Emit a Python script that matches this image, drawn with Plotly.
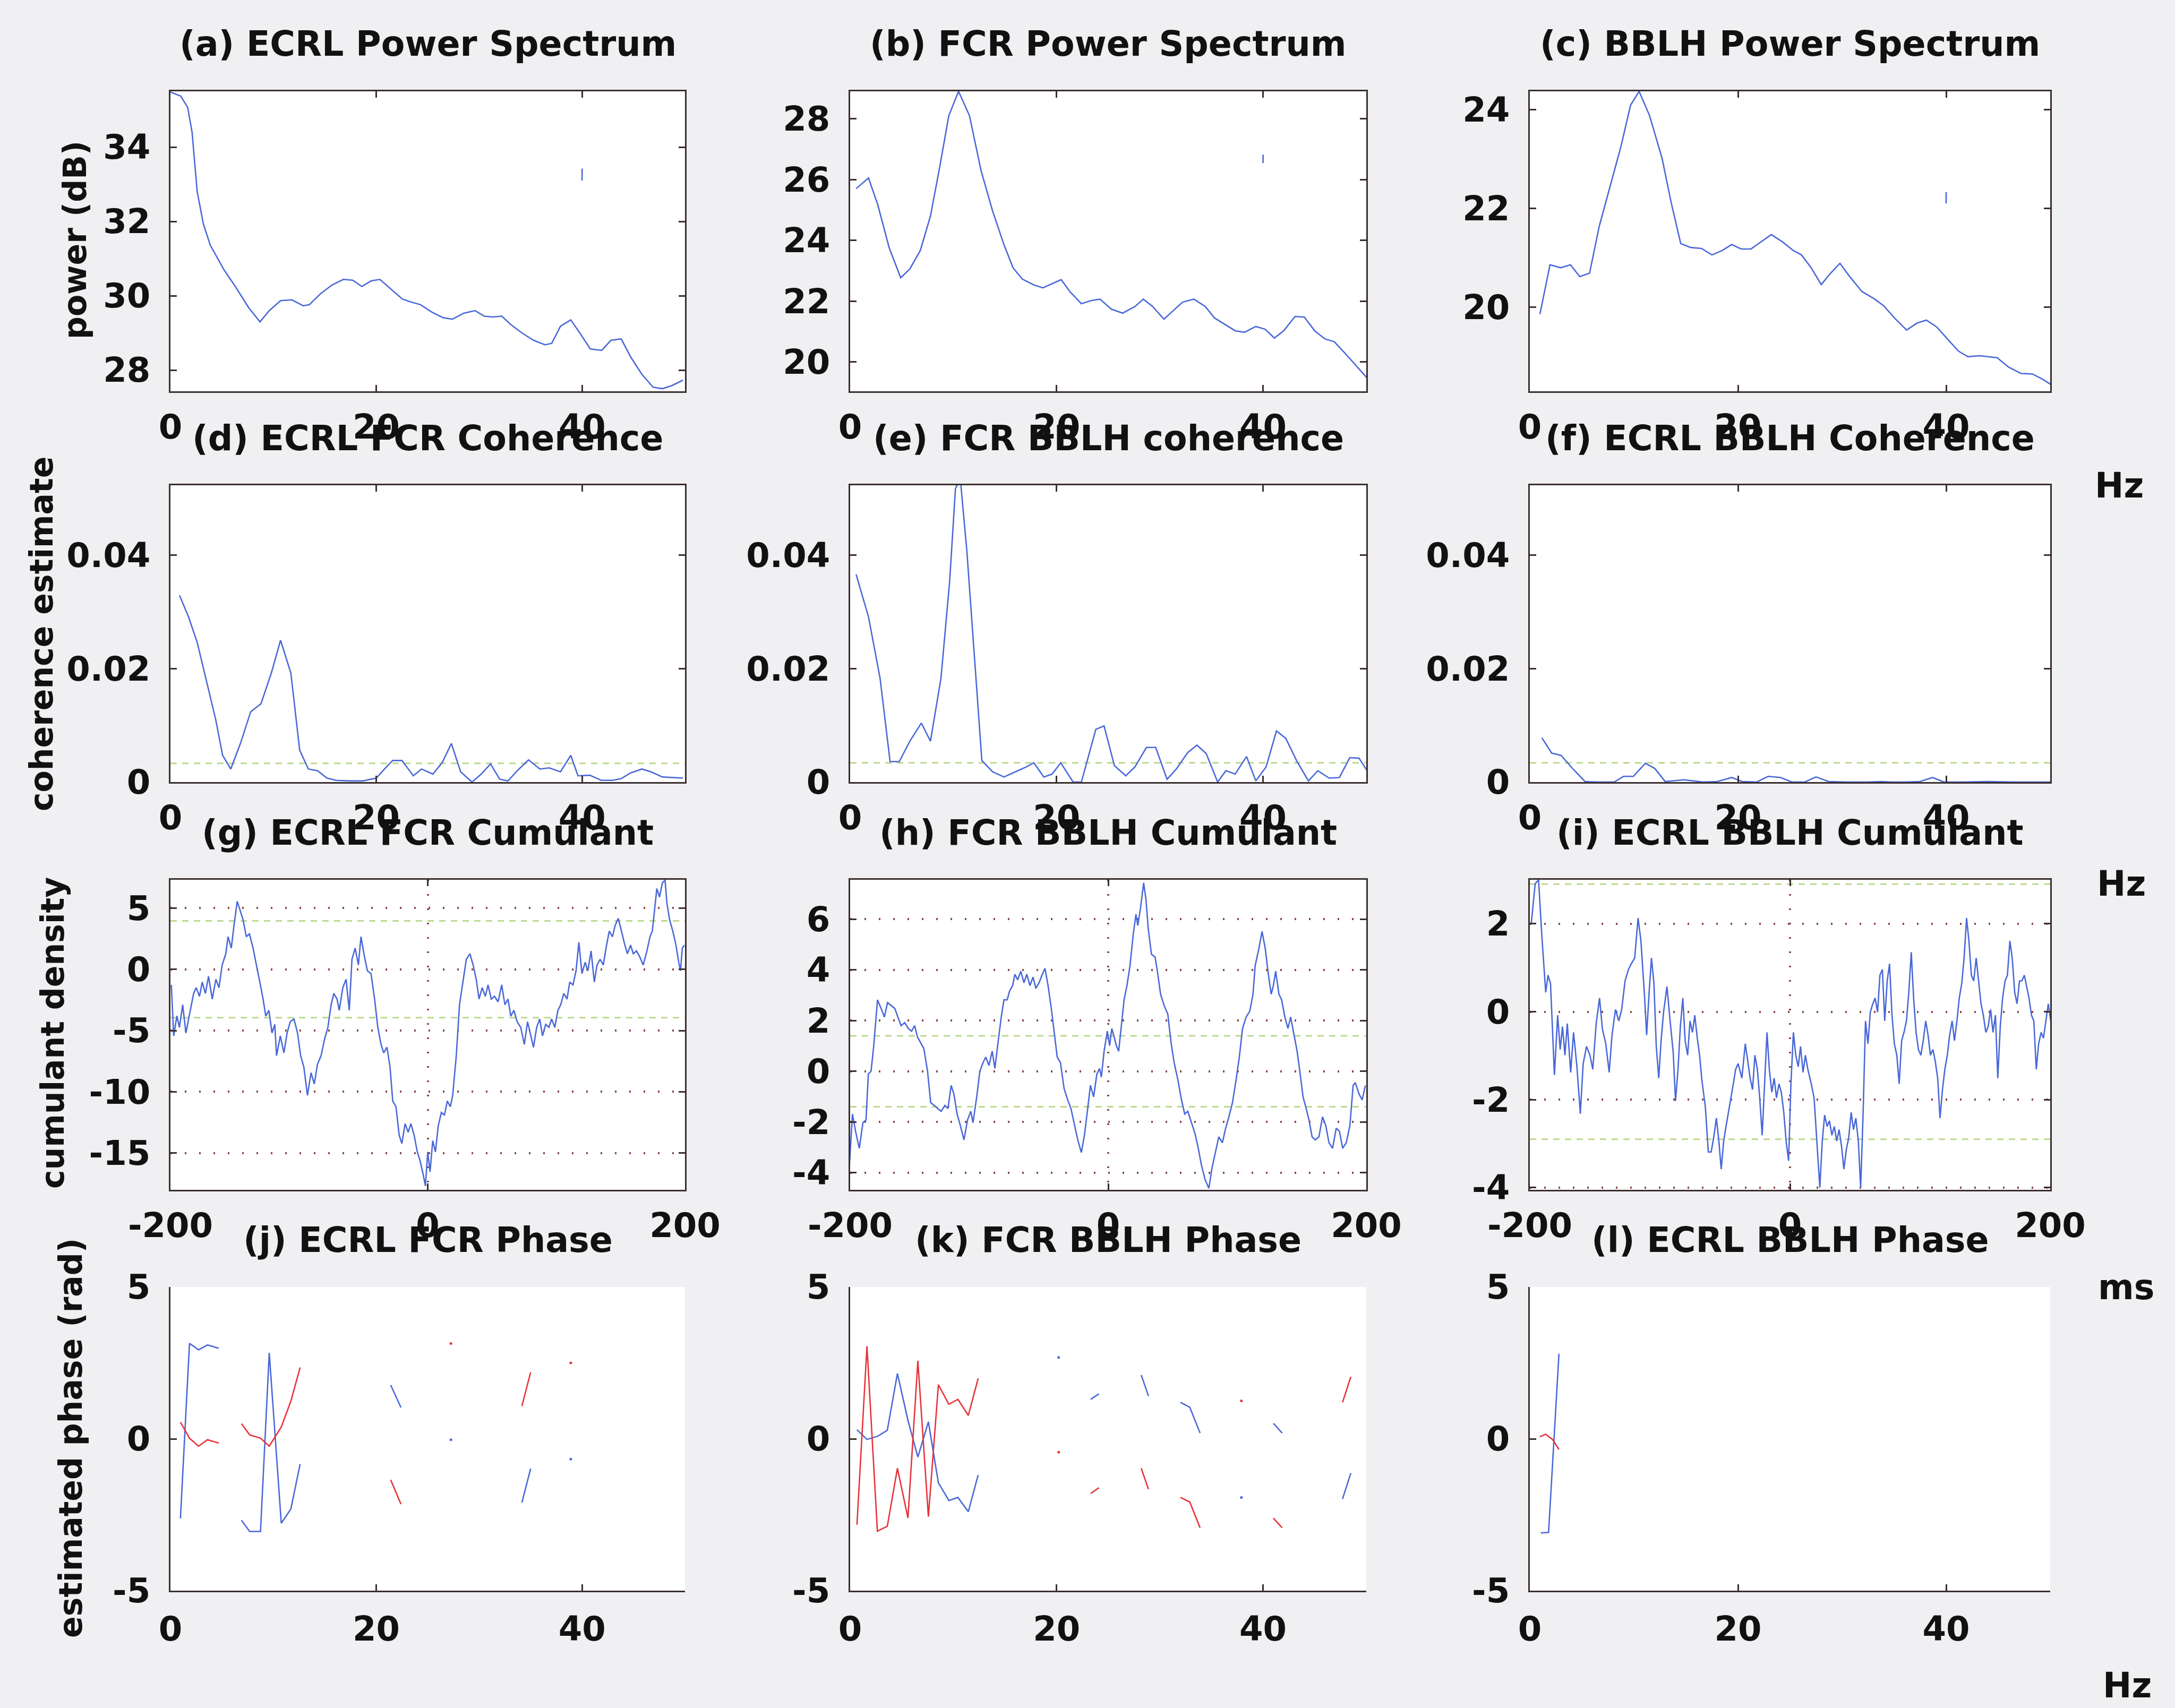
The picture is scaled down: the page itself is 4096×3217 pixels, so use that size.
import plotly.graph_objects as go

W, H = 4096, 3217

# ---------------- (a)-(c) power spectra (dB) vs frequency (Hz) ----------------
freq_a = [0, 1.0, 1.67, 2.1, 2.6, 3.2, 3.87, 5.2, 6.3, 7.6, 8.7, 9.6, 10.7, 11.8, 12.9, 13.5,
          14.6, 15.7, 16.8, 17.7, 18.6, 19.5, 20.35, 21.45, 22.55, 23.4, 24.3, 25.4, 26.5, 27.4,
          28.5, 29.6, 30.5, 31.3, 32.2, 33.1, 34.2, 35.3, 36.4, 37.05, 37.9, 38.9, 39.8, 40.8,
          41.9, 42.8, 43.8, 44.75, 45.8, 46.9, 47.8, 48.7, 49.8]
pow_ecrl = [35.48, 35.37, 35.07, 34.4, 32.8, 31.93, 31.36, 30.7, 30.25, 29.68, 29.3, 29.6, 29.87,
            29.89, 29.73, 29.76, 30.06, 30.29, 30.44, 30.42, 30.25, 30.4, 30.44, 30.18, 29.91,
            29.83, 29.76, 29.56, 29.41, 29.37, 29.53, 29.6, 29.45, 29.43, 29.45, 29.22, 28.99,
            28.8, 28.68, 28.72, 29.18, 29.35, 28.99, 28.57, 28.53, 28.8, 28.84, 28.34, 27.89,
            27.54, 27.5, 27.58, 27.73]

freq_b = [0.58, 1.78, 2.67, 3.78, 4.9, 5.78, 6.8, 7.78, 8.67, 9.56, 10.5, 11.56, 12.67, 13.78,
          14.9, 15.78, 16.67, 17.78, 18.67, 19.56, 20.44, 21.33, 22.4, 23.33, 24.2, 25.3, 26.4,
          27.6, 28.4, 29.3, 30.4, 31.3, 32.2, 33.3, 34.4, 35.3, 36.4, 37.3, 38.2, 39.3, 40.2,
          41.1, 42.0, 43.1, 44.0, 45.0, 46.0, 46.9, 48.0, 49.1, 50.1]
pow_fcr = [25.7, 26.05, 25.18, 23.76, 22.77, 23.06, 23.67, 24.8, 26.4, 28.1, 28.9, 28.1, 26.31,
           24.99, 23.86, 23.1, 22.73, 22.54, 22.44, 22.58, 22.71, 22.3, 21.92, 22.02, 22.07,
           21.74, 21.61, 21.83, 22.07, 21.83, 21.41, 21.69, 21.97, 22.07, 21.83, 21.45, 21.22,
           21.03, 20.98, 21.17, 21.08, 20.79, 21.03, 21.5, 21.48, 21.03, 20.76, 20.67, 20.27,
           19.85, 19.47]

freq_c = [0.97, 1.94, 2.96, 3.9, 4.8, 5.74, 6.67, 7.8, 8.75, 9.68, 10.5, 11.5, 12.7, 13.6, 14.5,
          15.46, 16.5, 17.5, 18.5, 19.4, 20.3, 21.25, 22.2, 23.2, 24.3, 25.3, 26.1, 27.0, 28.0,
          28.9, 29.8, 30.7, 31.9, 33.1, 34.0, 35.1, 36.2, 37.2, 38.1, 39.1, 40.2, 41.2, 42.1,
          43.2, 44.9, 46.0, 47.2, 48.3, 49.3, 50.2]
pow_bblh = [19.86, 20.86, 20.8, 20.86, 20.62, 20.69, 21.64, 22.5, 23.25, 24.09, 24.37, 23.88,
            23.02, 22.1, 21.29, 21.21, 21.19, 21.06, 21.15, 21.27, 21.18, 21.18, 21.32, 21.47,
            21.32, 21.15, 21.06, 20.81, 20.46, 20.69, 20.89, 20.63, 20.32, 20.17, 20.03, 19.77,
            19.54, 19.68, 19.74, 19.6, 19.34, 19.11, 19.0, 19.02, 18.98, 18.79, 18.66, 18.65,
            18.54, 18.42]

# 95% confidence interval bars drawn at 40 Hz on each spectrum
ci_freq = [40, 40, 40]
ci_low = [33.1, 26.54, 22.1]
ci_high = [33.42, 26.82, 22.33]

# ---------------- (d)-(f) coherence estimates ----------------
freq_d = [0.88, 1.76, 2.6, 3.5, 4.4, 5.07, 5.86, 6.8, 7.8, 8.8, 9.8, 10.7, 11.7, 12.56, 13.4,
          14.3, 15.2, 16.1, 17.4, 18.7, 20.0, 20.9, 21.6, 22.5, 23.6, 24.4, 25.5, 26.4, 27.3,
          28.2, 29.3, 30.2, 31.1, 32.0, 32.8, 33.7, 34.8, 35.9, 36.8, 37.9, 38.9, 39.6, 40.75,
          41.85, 42.95, 43.8, 44.7, 45.8, 46.7, 47.8, 48.7, 49.8]
coh_ecrl_fcr = [0.0329, 0.0291, 0.0246, 0.0178, 0.011, 0.0047, 0.0023, 0.0068, 0.0124, 0.0138,
                0.0192, 0.025, 0.0192, 0.0056, 0.0023, 0.002, 0.0007, 0.0003, 0.0002, 0.0002,
                0.0007, 0.0025, 0.0038, 0.0038, 0.0011, 0.0023, 0.0014, 0.0034, 0.0068, 0.0018,
                0.0, 0.0014, 0.0032, 0.0005, 0.0002, 0.002, 0.0039, 0.0023, 0.0025, 0.0018,
                0.0047, 0.0011, 0.0012, 0.0003, 0.0003, 0.0006, 0.0016, 0.0023, 0.0018, 0.0009,
                0.0008, 0.0007]

freq_e = [0.58, 1.78, 2.9, 3.87, 4.76, 5.78, 6.9, 7.78, 8.8, 9.64, 10.2, 10.67, 11.3, 12.0,
          12.76, 13.8, 14.9, 16.0, 17.1, 17.8, 18.76, 19.56, 20.4, 21.6, 22.4, 23.8, 24.6, 25.6,
          26.7, 27.6, 28.7, 29.6, 30.7, 31.6, 32.7, 33.6, 34.5, 35.6, 36.4, 37.3, 38.4, 39.3,
          40.3, 41.3, 42.2, 43.3, 44.4, 45.3, 46.4, 47.4, 48.4, 49.3, 50.3]
coh_fcr_bblh = [0.0366, 0.0291, 0.0183, 0.0036, 0.0036, 0.0072, 0.0104, 0.0072, 0.0183, 0.0354,
                0.0517, 0.0535, 0.0409, 0.0228, 0.0038, 0.0018, 0.0009, 0.0018, 0.0027, 0.0034,
                0.0009, 0.0014, 0.0034, 0.0, 0.0, 0.0093, 0.0099, 0.0029, 0.0011, 0.0027, 0.0061,
                0.0061, 0.0005, 0.0023, 0.0052, 0.0065, 0.005, 0.0, 0.002, 0.0014, 0.0045, 0.0002,
                0.0027, 0.009, 0.0077, 0.0036, 0.0002, 0.002, 0.0007, 0.0008, 0.0043, 0.0042,
                0.0014]

freq_f = [1.16, 2.1, 3.0, 4.2, 5.3, 6.5, 8.1, 9.0, 9.95, 11.1, 12.0, 13.0, 14.8, 16.7, 18.0,
          19.4, 20.4, 21.8, 22.9, 24.1, 25.2, 26.4, 27.5, 28.7, 30.6, 32.4, 33.8, 34.7, 36.1,
          37.5, 38.7, 39.8, 41.7, 44.0, 46.5, 50.0]
coh_ecrl_bblh = [0.0078, 0.0051, 0.0047, 0.0022, 0.0001, 0.0, 0.0, 0.001, 0.001, 0.0033, 0.0024,
                 0.0001, 0.0004, 0.0, 0.0001, 0.0008, 0.0001, 0.0, 0.001, 0.0008, 0.0, 0.0,
                 0.0009, 0.0001, 0.0, 0.0, 0.0001, 0.0, 0.0, 0.0001, 0.0008, 0.0, 0.0, 0.0001,
                 0.0, 0.0]

coh_limit = [0.0033, 0.0034, 0.0034]

# ---------------- (g)-(i) cumulant densities vs lag (ms) ----------------
lag_g = [-199.3, -197.5, -195, -193, -190.5, -188, -185, -182, -180, -177.4, -175.3, -172.8,
         -170.4, -167.5, -164.7, -162.3, -159.8, -157, -155.2, -152.7, -150.6, -148.1, -145.6,
         -143.6, -141, -138.6, -135.8, -133.3, -130.5, -128, -125.9, -123.5, -121, -118.9,
         -117.5, -114.6, -111.8, -109.3, -106.9, -104, -101.2, -98.8, -96.3, -93.5, -90.7,
         -88.2, -85.7, -82.9, -80.1, -77.6, -75.1, -73, -70.5, -68.8, -66, -63.5, -61, -58.9,
         -56.4, -53.9, -51.9, -49.4, -46.9, -44.1, -41.3, -38.8, -36.3, -34.2, -31.7, -29.3,
         -27.2, -24.7, -22.2, -20.1, -17.6, -15.2, -13.1, -10.6, -8.1, -6, -3.5, -1.8, 0, 1.8,
         3.9, 6, 8.1, 10.6, 13, 15.2, 17.6, 19.4, 22.2, 24.7, 27.2, 30, 32.8, 35.3, 37.7, 39.9,
         42.3, 44.8, 46.9, 49.4, 51.9, 54.7, 57.5, 60, 62.4, 64.6, 67, 69.5, 72.3, 75.1, 77.6,
         80.1, 82.2, 84.7, 87.1, 89.2, 91.7, 94.2, 96.3, 98.8, 101.2, 103.4, 105.8, 108.3,
         110.4, 112.9, 115.3, 117.5, 119.9, 122.4, 124.5, 127, 129.5, 131.6, 134, 136.5, 138.6,
         141.1, 143.6, 145.7, 148.1, 150.6, 152.7, 155.2, 157.7, 159.8, 162.3, 164.7, 167.5,
         170.4, 172.8, 174.6, 176.4, 178.1, 180.2, 182.4, 184.5, 185.9, 188, 190.5, 193, 195.1,
         196.5, 197.9, 199.6]
cum_ecrl_fcr = [-1.27, -5.43, -3.8, -4.74, -2.89, -5.2, -3.58, -1.97, -1.5, -2.2, -1.04, -1.97,
                -0.58, -2.43, -0.81, -1.5, 0.35, 1.27, 2.66, 1.73, 3.58, 5.55, 4.74, 4.05, 2.66,
                2.89, 1.73, 0.46, -1.04, -2.43, -3.82, -3.35, -5.2, -4.5, -7.05, -5.43, -6.82,
                -5.2, -4.28, -4.05, -5.2, -7.05, -7.98, -10.29, -8.44, -9.36, -7.75, -7.05, -5.66,
                -4.74, -2.89, -1.97, -2.43, -3.35, -1.5, -0.81, -3.35, 0.81, 1.73, 0.35, 2.66,
                1.16, -0.12, -0.35, -2.43, -4.74, -6.13, -6.82, -6.36, -7.98, -10.75, -11.21,
                -13.53, -14.22, -12.6, -13.3, -12.6, -13.53, -14.91, -15.61, -16.76, -17.69,
                -14.91, -16.53, -13.99, -14.91, -12.83, -11.68, -11.91, -10.75, -11.21, -10.29,
                -7.05, -2.89, -1.04, 0.81, 1.27, 0.35, -0.81, -2.43, -1.5, -2.2, -1.27, -2.43,
                -2.2, -2.66, -1.27, -2.89, -2.43, -3.82, -3.35, -4.28, -4.74, -6.13, -4.28, -5.43,
                -6.36, -4.74, -4.05, -5.43, -4.5, -4.74, -4.05, -4.74, -3.35, -2.89, -1.97, -2.43,
                -1.04, -1.27, -0.12, 2.2, -0.35, 0.58, -0.12, 1.5, -1.04, 0.35, 0.81, 0.35, 1.73,
                3.12, 2.66, 3.58, 4.16, 3.12, 2.2, 1.27, 1.97, 1.27, 1.5, 1.04, 0.35, 1.5, 2.66,
                3.12, 4.97, 6.59, 5.9, 7.05, 7.28, 5.43, 4.05, 3.12, 1.97, 0.58, -0.12, 1.73, 1.97]

lag_h = [-200.7, -198.2, -195.8, -192.9, -190.1, -187.7, -185.9, -183.8, -181.7, -178.8, -176,
         -173.5, -171, -168.3, -165.4, -163, -160.5, -157.7, -154.9, -152.4, -150, -147.8,
         -145.3, -142.9, -140, -137.6, -134.7, -132.3, -129.5, -126.6, -124.2, -121.7, -119.6,
         -117.1, -114.6, -111.8, -109, -106.5, -104.8, -101.9, -99.5, -97, -94.9, -92.4, -89.9,
         -87.8, -85.4, -82.9, -80.8, -78.3, -76.5, -74.1, -72.3, -70.2, -67.7, -65.3, -63.1,
         -60.7, -58.2, -56.1, -53.6, -51.1, -49, -46.6, -44.1, -42, -39.5, -37, -34.2, -31.4,
         -28.9, -26.5, -23.6, -20.8, -18.3, -15.9, -13.8, -11.3, -8.8, -6.7, -5.3, -3.2, -0.7,
         1.1, 2.8, 4.6, 6.3, 8.1, 9.9, 12.3, 14.5, 16.9, 19.4, 21.5, 22.9, 25, 27.5, 29.3, 31,
         33.5, 36.3, 38.1, 40.6, 43.4, 46.2, 48.7, 51.1, 54, 56.8, 59.3, 61.7, 64.6, 67.4, 69.8,
         72.3, 75.1, 78, 80.4, 82.9, 85.7, 88.5, 91, 93.5, 96.3, 99.1, 101.6, 104.1, 106.9,
         109.7, 112.2, 113.9, 116.8, 119.2, 121.7, 123.8, 126.3, 128, 129.8, 132.3, 134.4,
         136.9, 139.3, 141.4, 143.9, 146.4, 148.5, 151, 153.4, 155.6, 158, 160.5, 163.3, 166.1,
         168.6, 171.1, 173.9, 176.7, 179.2, 181.7, 184.5, 187.3, 189.8, 191.5, 194.4, 196.8,
         199.3]
cum_fcr_bblh = [-3.83, -1.69, -2.37, -3.04, -2.03, -1.92, -0.11, 0.0, 1.01, 2.82, 2.48, 2.14,
                2.71, 2.59, 2.48, 2.14, 1.8, 1.92, 1.69, 1.58, 1.8, 1.35, 1.13, 0.9, 0.0, -1.24,
                -1.35, -1.47, -1.58, -1.35, -1.47, -0.56, -0.9, -1.69, -2.14, -2.71, -1.92,
                -1.58, -2.03, -1.01, 0.0, 0.34, 0.56, 0.23, 0.79, 0.11, 1.13, 2.14, 2.82, 2.82,
                3.16, 3.38, 3.83, 3.61, 3.95, 3.49, 3.83, 3.38, 3.72, 3.27, 3.49, 3.83, 4.06,
                3.38, 2.48, 1.58, 0.56, 0.34, -0.68, -1.13, -1.47, -2.03, -2.71, -3.21, -2.48,
                -1.47, -0.56, -1.01, -0.11, 0.11, -0.23, 0.79, 1.58, 1.01, 1.69, 1.35, 1.01, 0.79,
                1.69, 2.82, 3.38, 4.17, 5.41, 6.2, 5.75, 6.43, 7.44, 6.76, 5.64, 4.62, 4.51, 3.95,
                3.04, 2.59, 2.25, 1.13, 0.34, -0.34, -1.13, -1.69, -1.58, -2.03, -2.48, -3.04,
                -3.72, -4.28, -4.62, -3.83, -3.27, -2.59, -2.82, -2.25, -1.8, -1.24, -0.34, 0.56,
                1.69, 2.14, 2.37, 3.04, 4.17, 4.85, 5.52, 4.85, 3.95, 3.04, 3.38, 3.95, 3.04,
                2.82, 2.14, 1.69, 2.14, 1.47, 0.79, 0.0, -1.01, -1.47, -1.92, -2.59, -2.71, -2.59,
                -1.8, -2.14, -2.82, -3.04, -2.25, -2.37, -3.04, -2.82, -2.14, -0.56, -0.45, -0.9,
                -1.13, -0.56]

lag_i = [-198.9, -195.9, -193.3, -190.8, -187.8, -186, -184.1, -181.1, -178.6, -176.7, -174.9,
         -173, -171.2, -168.6, -166.4, -163.8, -161.2, -159, -156.4, -153.8, -151.6, -149,
         -146.4, -144.2, -141.6, -139, -136.8, -134.2, -131.6, -129.4, -126.8, -124.2, -122,
         -119.4, -116.8, -114.6, -112, -110.2, -108.3, -106.5, -104.6, -102.8, -100.9, -99.1,
         -97.2, -94.6, -92.4, -89.8, -88, -86.1, -84.3, -82.4, -80.6, -78.7, -76.9, -75, -73.2,
         -71.3, -69.5, -67.7, -65.1, -62.8, -60.6, -58.4, -56.6, -54.7, -52.9, -51, -49.2,
         -47.3, -45.5, -43.6, -41.8, -39.9, -37, -34.4, -32.5, -30.7, -28.8, -27, -25.1, -23.3,
         -21.4, -19.6, -17.7, -15.9, -14, -12.2, -10.4, -8.5, -6.7, -4.8, -3, -1.1, 0.7, 2.6,
         4.4, 6.3, 8.1, 10, 11.8, 13.7, 16.3, 18.5, 21.1, 22.9, 24.8, 26.6, 28.5, 30.3, 32.2,
         34, 35.9, 37.7, 39.6, 41.4, 43.3, 45.1, 47, 48.8, 50.6, 52.5, 54.3, 56.2, 58, 59.9,
         61.7, 63.6, 65.4, 67.3, 69.1, 71, 72.8, 74.7, 76.5, 78.4, 80.2, 82.1, 83.9, 85.8, 87.6,
         89.5, 91.3, 93.2, 95, 96.9, 98.7, 100.6, 102.4, 104.3, 106.1, 107.9, 109.8, 111.6,
         113.5, 115.3, 117.2, 119, 120.9, 122.7, 124.6, 126.4, 128.3, 130.1, 132, 133.8, 135.7,
         137.5, 139.4, 141.2, 143.1, 144.9, 146.8, 148.6, 150.5, 152.3, 154.2, 156, 157.9,
         159.7, 161.6, 163.4, 165.3, 167.1, 169, 170.8, 172.7, 174.5, 176.4, 178.2, 180.1,
         181.9, 183.7, 185.6, 187.4, 189.3, 191.1, 193, 194.8, 196.7, 198.5, 200.4]
cum_ecrl_bblh = [2.0, 2.91, 3.0, 1.74, 0.44, 0.83, 0.64, -1.44, -0.08, -0.86, -0.34, -0.99,
                 -0.27, -1.38, -0.47, -1.25, -2.32, -1.18, -0.79, -0.99, -1.31, -0.27, 0.31,
                 -0.4, -0.73, -1.38, -0.53, 0.05, -0.21, 0.05, 0.7, 0.96, 1.09, 1.22, 2.13, 1.61,
                 0.44, -0.53, 0.44, 1.22, 0.64, -0.79, -1.51, -0.66, -0.01, 0.57, -0.14, -0.92,
                 -2.03, -1.31, -0.34, 0.31, -0.66, -0.99, -0.21, -0.47, -0.08, -0.6, -0.99, -1.57,
                 -2.16, -3.19, -3.19, -2.81, -2.42, -2.94, -3.58, -2.94, -2.61, -2.29, -1.96,
                 -1.64, -1.31, -1.18, -1.51, -0.73, -1.12, -1.51, -1.77, -0.99, -1.31, -1.96,
                 -2.81, -1.7, -0.47, -1.31, -1.83, -1.51, -1.96, -1.64, -1.83, -2.29, -2.94,
                 -3.39, -1.64, -0.47, -0.99, -1.25, -0.79, -1.38, -0.99, -1.31, -1.64, -1.96,
                 -3.13, -4.0, -2.94, -2.35, -2.61, -2.48, -2.81, -2.61, -2.94, -2.68, -3.06,
                 -3.58, -3.13, -2.87, -2.29, -2.68, -2.42, -2.94, -4.0, -2.29, -0.21, -0.73,
                 -0.01, 0.18, 0.31, -0.01, 0.83, 0.96, -0.21, 0.7, 1.09, -0.08, -0.73, -0.99,
                 -1.64, -0.66, -0.47, -0.21, 0.44, 1.35, 0.31, -0.47, -0.86, -0.99, -0.66, -0.21,
                 -0.53, -0.99, -0.86, -1.12, -1.51, -2.42, -1.77, -1.31, -0.99, -0.53, -0.21,
                 -0.66, -0.21, 0.31, 0.64, 1.22, 2.13, 1.61, 0.83, 0.7, 1.22, 0.7, 0.18, -0.08,
                 -0.47, -0.34, 0.05, -0.47, -0.08, -1.51, -0.34, 0.31, 0.7, 0.83, 1.61, 1.22,
                 0.44, 0.18, 0.7, 0.7, 0.83, 0.57, 0.31, -0.08, -0.21, -1.31, -0.73, -0.47, -0.6,
                 -0.21, 0.18, -0.21]

cum_limit = [3.95, 1.4, 2.9]

# ---------------- (j)-(l) phase estimates (rad); None breaks the line ----------------
freq_j = [0.97, 1.85, 2.73, 3.6, 4.7, None, 6.9, 7.7, 8.75, 9.6, 10.77, 11.7, 12.6, None,
          21.4, 22.4, None, 34.15, 35.0]
phase_j = [-2.62, 3.14, 2.93, 3.09, 2.98, None, -2.68, -3.05, -3.05, 2.83, -2.78, -2.31, -0.83,
           None, 1.77, 1.03, None, -2.1, -0.98]
bound_j = [0.55, 0.02, -0.24, -0.03, -0.14, None, 0.5, 0.13, 0.02, -0.24, 0.39, 1.24, 2.35,
           None, -1.35, -2.15, None, 1.08, 2.19]
dot_freq_j = [27.25, 38.9]
dot_phase_j = [-0.03, -0.67]
dot_bound_j = [3.14, 2.5]

freq_k = [0.66, 1.63, 2.64, 3.6, 4.58, 5.6, 6.56, 7.58, 8.55, 9.56, 10.44, 11.45, 12.4, None,
          23.3, 24.1, None, 28.2, 28.9, None, 32.0, 32.9, 33.9, None, 41.0, 41.85, None,
          47.7, 48.5]
phase_k = [0.3, -0.02, 0.08, 0.28, 2.15, 0.61, -0.6, 0.56, -1.45, -2.03, -1.93, -2.4, -1.19,
           None, 1.3, 1.48, None, 2.1, 1.41, None, 1.2, 1.04, 0.19, None, 0.51, 0.19, None,
           -1.98, -1.13]
bound_k = [-2.83, 3.05, -3.04, -2.88, -0.97, -2.61, 2.57, -2.56, 1.78, 1.14, 1.3, 0.77, 1.99,
           None, -1.8, -1.61, None, -0.97, -1.66, None, -1.93, -2.08, -2.93, None, -2.61,
           -2.93, None, 1.2, 2.04]
dot_freq_k = [20.2, 37.9]
dot_phase_k = [2.68, -1.93]
dot_bound_k = [-0.44, 1.25]

freq_l = [1.06, 1.8, 2.8]
phase_l = [-3.1, -3.08, 2.8]
freq_l_bound = [0.97, 1.52, 2.2, 2.8]
bound_l = [0.07, 0.15, -0.03, -0.35]

# ---------------- styling ----------------
BLUE = "#4a68d8"
RED = "#e8323a"
GREEN = "#bcd98e"
AXC = "#3a2e2e"
GRIDC = "#8a4848"
FONT = "DejaVu Sans"
TICK_SIZE = 64
TITLE_SIZE = 65
LABEL_SIZE = 60

COLS = [(321, 1290), (1601, 2573), (2881, 3861)]
ROWS = [(172, 737), (914, 1473), (1657, 2241), (2424, 2996)]

titles = ["(a) ECRL Power Spectrum", "(b) FCR Power Spectrum", "(c) BBLH Power Spectrum",
          "(d) ECRL FCR Coherence", "(e) FCR BBLH coherence", "(f) ECRL BBLH Coherence",
          "(g) ECRL FCR Cumulant", "(h) FCR BBLH Cumulant", "(i) ECRL BBLH Cumulant",
          "(j) ECRL FCR Phase", "(k) FCR BBLH Phase", "(l) ECRL BBLH Phase"]

y_ranges = [[27.43, 35.5], [19.04, 28.9], [18.3, 24.37],
            [0, 0.0523], [0, 0.0523], [0, 0.0523],
            [-18.0, 7.31], [-4.68, 7.56], [-4.05, 3.0],
            [-5, 5], [-5, 5], [-5, 5]]
y_ticks = [[28, 30, 32, 34], [20, 22, 24, 26, 28], [20, 22, 24],
           [0, 0.02, 0.04], [0, 0.02, 0.04], [0, 0.02, 0.04],
           [-15, -10, -5, 0, 5], [-4, -2, 0, 2, 4, 6], [-4, -2, 0, 2],
           [-5, 0, 5], [-5, 0, 5], [-5, 0, 5]]


def tick_text(values):
    # plain hyphen-minus labels, trailing zeros dropped
    return [("%g" % v) for v in values]


fig = go.Figure()


def line(n, x, y, color=BLUE, width=2.6, dash=None):
    fig.add_trace(go.Scatter(x=x, y=y, mode="lines", xaxis=f"x{n}", yaxis=f"y{n}",
                             line=dict(color=color, width=width, dash=dash),
                             connectgaps=False, showlegend=False, hoverinfo="skip"))


def dots(n, x, y, color):
    fig.add_trace(go.Scatter(x=x, y=y, mode="markers", xaxis=f"x{n}", yaxis=f"y{n}",
                             marker=dict(color=color, size=5), showlegend=False,
                             hoverinfo="skip"))


# spectra
line(1, freq_a, pow_ecrl)
line(2, freq_b, pow_fcr)
line(3, freq_c, pow_bblh)
for k in range(3):
    line(k + 1, [ci_freq[k], ci_freq[k]], [ci_low[k], ci_high[k]])

# coherence with confidence limit
for k, (fx, cy) in enumerate([(freq_d, coh_ecrl_fcr), (freq_e, coh_fcr_bblh),
                              (freq_f, coh_ecrl_bblh)]):
    n = k + 4
    line(n, [0, 50], [coh_limit[k], coh_limit[k]], color=GREEN, width=3, dash="12px,10px")
    line(n, fx, cy)

# cumulants with confidence limits
for k, (lx, cy) in enumerate([(lag_g, cum_ecrl_fcr), (lag_h, cum_fcr_bblh),
                              (lag_i, cum_ecrl_bblh)]):
    n = k + 7
    for s in (1, -1):
        line(n, [-200, 200], [s * cum_limit[k], s * cum_limit[k]], color=GREEN, width=3,
             dash="12px,10px")
    line(n, lx, cy)

# phase estimates
line(10, freq_j, phase_j)
line(10, freq_j, bound_j, color=RED)
dots(10, dot_freq_j, dot_phase_j, BLUE)
dots(10, dot_freq_j, dot_bound_j, RED)
line(11, freq_k, phase_k)
line(11, freq_k, bound_k, color=RED)
dots(11, dot_freq_k, dot_phase_k, BLUE)
dots(11, dot_freq_k, dot_bound_k, RED)
line(12, freq_l, phase_l)
line(12, freq_l_bound, bound_l, color=RED)

tickfont = dict(family=FONT, size=TICK_SIZE, color="#111111", weight="bold")
layout = dict(width=W, height=H, margin=dict(l=0, r=0, t=0, b=0, pad=0), autosize=False,
              template="none",
              paper_bgcolor="#f0f0f2", plot_bgcolor="#ffffff", showlegend=False)

annotations = []
for idx in range(12):
    n = idx + 1
    r, c = divmod(idx, 3)
    x0, x1 = COLS[c]
    y0, y1 = ROWS[r]
    is_phase = r == 3
    is_cum = r == 2
    if is_cum:
        xr, xt = [-200, 200], [-200, 0, 200]
    else:
        xr, xt = [0, 50], [0, 20, 40]
    mirror = False if is_phase else "ticks"
    xa = dict(domain=[x0 / W, x1 / W], anchor=f"y{n}", range=xr, tickvals=xt,
              ticktext=tick_text(xt), automargin=False,
              ticks="inside", ticklen=12, tickwidth=3, tickcolor=AXC,
              showline=True, linecolor=AXC, linewidth=3, mirror=mirror,
              showgrid=is_cum, gridcolor=GRIDC, griddash="3px,24px", gridwidth=4,
              zeroline=False, tickfont=tickfont,
              ticklabelstandoff=14 if is_phase else 9)
    ya = dict(domain=[1 - y1 / H, 1 - y0 / H], anchor=f"x{n}", range=y_ranges[idx],
              tickvals=y_ticks[idx], ticktext=tick_text(y_ticks[idx]), automargin=False,
              ticks="inside", ticklen=12, tickwidth=3,
              tickcolor=AXC, showline=True, linecolor=AXC, linewidth=3, mirror=mirror,
              showgrid=is_cum, gridcolor=GRIDC, griddash="3px,24px", gridwidth=4,
              zeroline=False, tickfont=tickfont, ticklabelstandoff=22)
    layout[f"xaxis{n}"] = xa
    layout[f"yaxis{n}"] = ya
    annotations.append(dict(text=titles[idx], x=(x0 + x1) / 2 / W, y=1 - (y0 - 89) / H,
                            xref="paper", yref="paper", xanchor="center", yanchor="middle",
                            showarrow=False,
                            font=dict(family=FONT, size=TITLE_SIZE, color="#111111",
                                      weight="bold")))

# axis labels on the left, rotated
side_labels = [("power (dB)", 141, 452), ("coherence estimate", 78, 1194),
               ("cumulant density", 99, 1946), ("estimated phase (rad)", 133, 2709)]
for text, px, py in side_labels:
    annotations.append(dict(text=text, x=px / W, y=1 - py / H, xref="paper", yref="paper",
                            xanchor="center", yanchor="middle", textangle=-90,
                            showarrow=False,
                            font=dict(family=FONT, size=LABEL_SIZE, color="#111111",
                                      weight="bold")))

# unit labels at the right edge
unit_labels = [("Hz", 3991, 914), ("Hz", 3995, 1664), ("ms", 4004, 2424), ("Hz", 4006, 3174)]
for text, px, py in unit_labels:
    annotations.append(dict(text=text, x=px / W, y=1 - py / H, xref="paper", yref="paper",
                            xanchor="center", yanchor="middle", showarrow=False,
                            font=dict(family=FONT, size=TITLE_SIZE, color="#111111",
                                      weight="bold")))

layout["annotations"] = annotations
fig.update_layout(**layout)
fig.write_html("out.html")
